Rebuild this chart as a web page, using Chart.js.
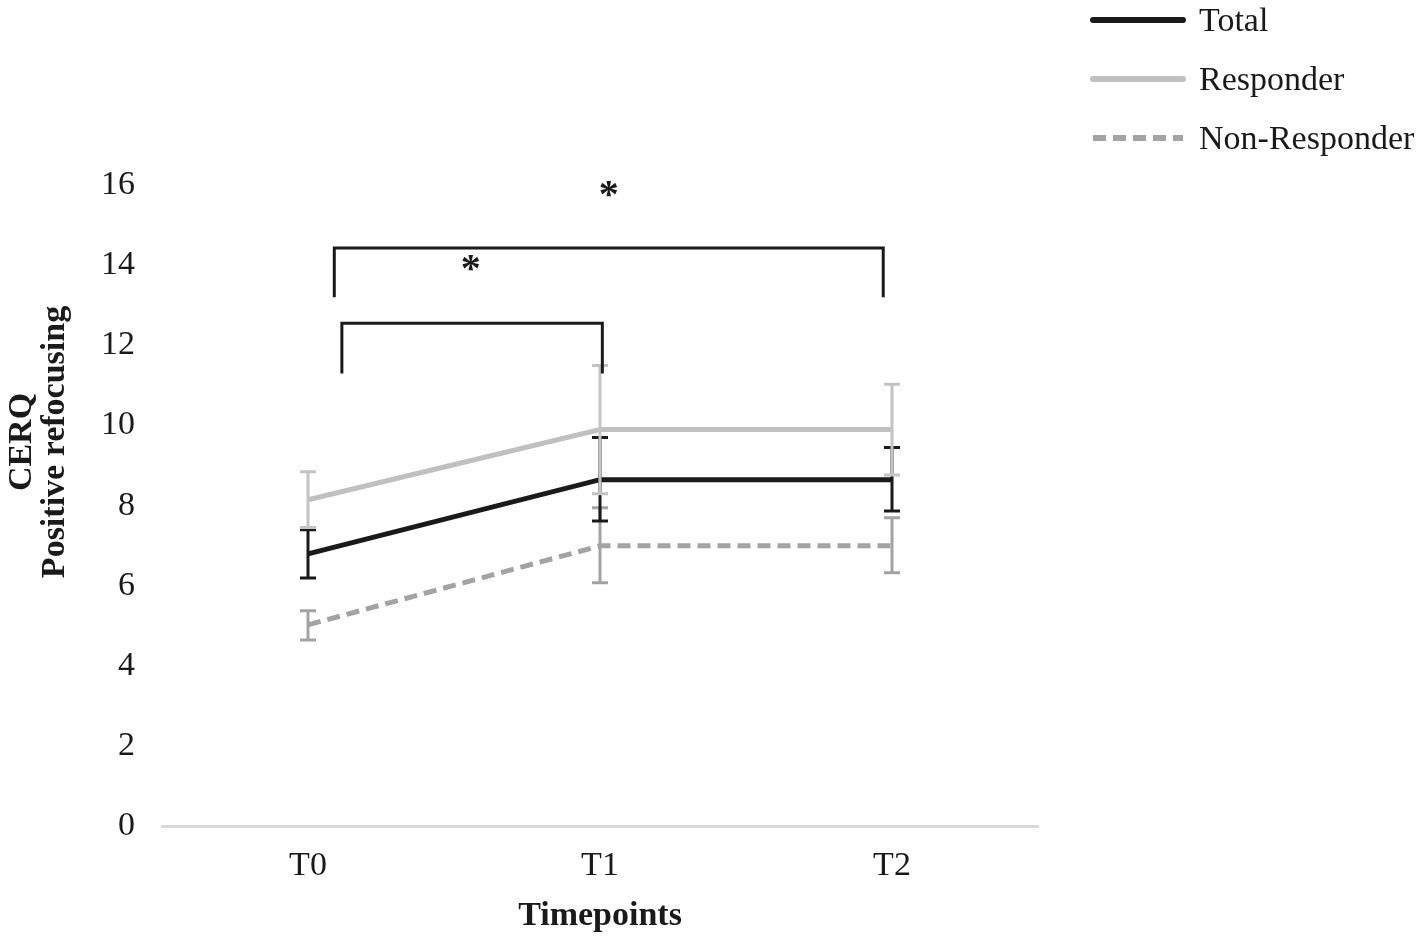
<!DOCTYPE html>
<html>
<head>
<meta charset="utf-8">
<title>CERQ Positive refocusing</title>
<script src="https://cdn.jsdelivr.net/npm/chart.js@4/dist/chart.umd.min.js"></script>
<style>
  html, body { margin: 0; padding: 0; background: #fff; }
  #wrap { width: 1421px; height: 937px; position: relative; }
</style>
</head>
<body>
<div id="wrap"><canvas id="cerqChart"></canvas></div>
<script>
const timepoints = ['T0', 'T1', 'T2'];

const totalMean = [6.8, 8.65, 8.65];
const totalUpper = [7.4, 9.7, 9.45];
const totalLower = [6.2, 7.62, 7.87];

const responderMean = [8.15, 9.9, 9.9];
const responderUpper = [8.85, 11.5, 11.03];
const responderLower = [7.46, 8.3, 8.77];

const nonResponderMean = [5.03, 7.0, 7.0];
const nonResponderUpper = [5.38, 7.95, 7.7];
const nonResponderLower = [4.65, 6.08, 6.33];

const yTicks = [0, 2, 4, 6, 8, 10, 12, 14, 16];

// significance brackets (x in category index units, y in score units)
const bracketFrom = [0.09, 0.116];
const bracketTo = [1.97, 1.008];
const bracketTop = [14.43, 12.55];
const bracketLeg = [13.2, 11.3];
const starX = [1.03, 0.557];
const starY = [15.9, 14.07];

const serif = '"Liberation Serif", "Times New Roman", serif';
const ink = '#1a1a1a';

// error bars drawn from the upper/lower arrays through the chart scales
const errorBars = {
    id: 'errorBars',
    afterDatasetsDraw(chart) {
        const { ctx, scales: { x, y } } = chart;
        const order = [2, 0, 1];
        order.forEach(i => {
            const ds = chart.data.datasets[i];
            ctx.save();
            ctx.strokeStyle = ds.barColor;
            ctx.lineWidth = 3;
            ctx.setLineDash([]);
            ds.upper.forEach((up, j) => {
                const px = x.getPixelForValue(j);
                const top = y.getPixelForValue(up);
                const bottom = y.getPixelForValue(ds.lower[j]);
                ctx.beginPath();
                ctx.moveTo(px, top);
                ctx.lineTo(px, bottom);
                ctx.moveTo(px - 8, top);
                ctx.lineTo(px + 8, top);
                ctx.moveTo(px - 8, bottom);
                ctx.lineTo(px + 8, bottom);
                ctx.stroke();
            });
            ctx.restore();
        });
    }
};

const brackets = {
    id: 'brackets',
    afterDraw(chart) {
        const { ctx, scales: { x, y } } = chart;
        ctx.save();
        ctx.strokeStyle = ink;
        ctx.lineWidth = 3;
        bracketFrom.forEach((from, i) => {
            const x1 = x.getPixelForValue(from);
            const x2 = x.getPixelForValue(bracketTo[i]);
            const yt = y.getPixelForValue(bracketTop[i]);
            const yl = y.getPixelForValue(bracketLeg[i]);
            ctx.beginPath();
            ctx.moveTo(x1, yl);
            ctx.lineTo(x1, yt);
            ctx.lineTo(x2, yt);
            ctx.lineTo(x2, yl);
            ctx.stroke();
        });
        ctx.fillStyle = ink;
        ctx.font = 'bold 40px ' + serif;
        ctx.textAlign = 'center';
        ctx.textBaseline = 'middle';
        starX.forEach((sx, i) => {
            ctx.fillText('*', x.getPixelForValue(sx), y.getPixelForValue(starY[i]) + 8);
        });
        ctx.restore();
    }
};

// two-line rotated y title and the stacked legend in the top right corner
const sideText = {
    id: 'sideText',
    afterDraw(chart) {
        const ctx = chart.ctx;
        ctx.save();
        ctx.fillStyle = ink;
        ctx.font = 'bold 34px ' + serif;
        ctx.textAlign = 'center';
        ctx.textBaseline = 'middle';
        ctx.translate(22, 442);
        ctx.rotate(-Math.PI / 2);
        ctx.fillText('CERQ', 0, 0);
        ctx.fillText('Positive refocusing', 0, 33);
        ctx.restore();

        ctx.save();
        ctx.font = '34px ' + serif;
        ctx.textAlign = 'left';
        ctx.textBaseline = 'middle';
        chart.data.datasets.forEach((ds, i) => {
            const ly = 20 + i * 59;
            ctx.strokeStyle = ds.borderColor;
            ctx.lineWidth = 6;
            ctx.lineCap = ds.borderDash ? 'butt' : 'round';
            ctx.setLineDash(ds.borderDash || []);
            ctx.beginPath();
            ctx.moveTo(1093, ly);
            ctx.lineTo(1183, ly);
            ctx.stroke();
            ctx.setLineDash([]);
            ctx.fillStyle = ink;
            ctx.fillText(ds.label, 1199, ly + 2);
        });
        ctx.restore();
    }
};

const ctx = document.getElementById('cerqChart').getContext('2d');
new Chart(ctx, {
    type: 'line',
    data: {
        labels: timepoints,
        datasets: [
            {
                label: 'Total',
                data: totalMean,
                upper: totalUpper,
                lower: totalLower,
                borderColor: '#1a1a1a',
                barColor: '#1a1a1a',
                borderWidth: 5,
                pointRadius: 0,
                tension: 0,
                order: 1
            },
            {
                label: 'Responder',
                data: responderMean,
                upper: responderUpper,
                lower: responderLower,
                borderColor: '#c0c0c0',
                barColor: '#c4c4c4',
                borderWidth: 5,
                pointRadius: 0,
                tension: 0,
                order: 2
            },
            {
                label: 'Non-Responder',
                data: nonResponderMean,
                upper: nonResponderUpper,
                lower: nonResponderLower,
                borderColor: '#a3a3a3',
                barColor: '#a3a3a3',
                borderWidth: 5,
                borderDash: [13, 7],
                pointRadius: 0,
                tension: 0,
                order: 3
            }
        ]
    },
    options: {
        responsive: true,
        maintainAspectRatio: false,
        animation: false,
        layout: {
            padding: { left: 74, right: 383, top: 185, bottom: 0 }
        },
        plugins: {
            legend: { display: false },
            tooltip: { enabled: false }
        },
        scales: {
            x: {
                offset: true,
                grid: { display: false, drawTicks: false },
                border: { display: true, color: '#d9d9d9', width: 3 },
                ticks: {
                    padding: 23,
                    color: ink,
                    font: { family: serif, size: 34, lineHeight: 1.0 }
                },
                title: {
                    display: true,
                    text: 'Timepoints',
                    color: ink,
                    padding: { top: -12, bottom: 0 },
                    font: { family: serif, size: 34, weight: 'bold', lineHeight: 1.25 }
                }
            },
            y: {
                min: 0,
                max: 16,
                grid: { display: false, drawTicks: false },
                border: { display: false },
                afterBuildTicks: axis => {
                    axis.ticks = yTicks.map(v => ({ value: v }));
                },
                ticks: {
                    padding: 27,
                    color: ink,
                    font: { family: serif, size: 34 }
                }
            }
        }
    },
    plugins: [errorBars, brackets, sideText]
});
</script>
</body>
</html>
